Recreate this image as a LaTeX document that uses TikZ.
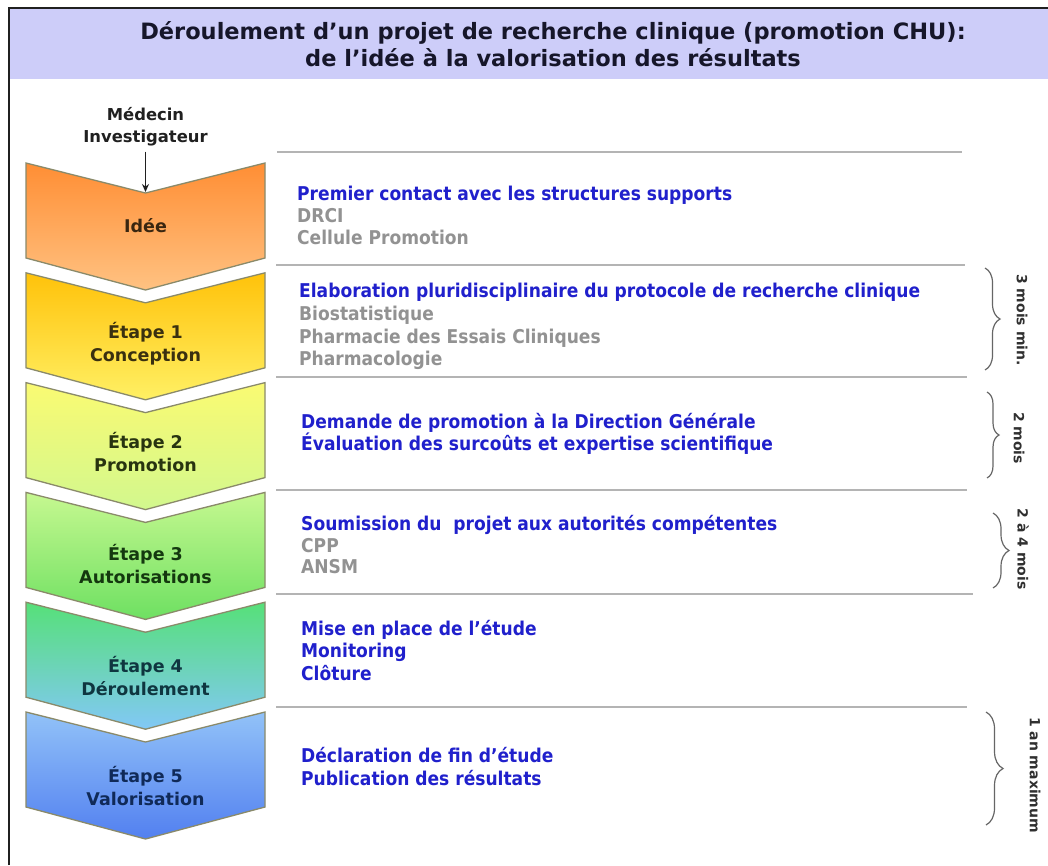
\documentclass[tikz,border=0pt]{standalone}
\usepackage{fontspec}
\setmainfont{DejaVu Sans}
\newfontfamily\condfont{DejaVu Sans Condensed}
\usetikzlibrary{arrows.meta,decorations.pathreplacing}
\definecolor{bandc}{HTML}{CDCDF9}
\definecolor{framec}{HTML}{202020}
\definecolor{titlec}{HTML}{16162A}
\definecolor{bluetxt}{HTML}{2020CC}
\definecolor{graytxt}{HTML}{929292}
\definecolor{chevline}{HTML}{8A8A6A}
\definecolor{rulec}{HTML}{B4B4B4}
\definecolor{bracec}{HTML}{666666}
\definecolor{durc}{HTML}{303030}
\definecolor{c0a}{HTML}{FF8E34}\definecolor{c0b}{HTML}{FFC282}
\definecolor{c1a}{HTML}{FFC20A}\definecolor{c1b}{HTML}{FFF064}
\definecolor{c2a}{HTML}{FAFA72}\definecolor{c2b}{HTML}{D2F88E}
\definecolor{c3a}{HTML}{C6F890}\definecolor{c3b}{HTML}{6EE062}
\definecolor{c4a}{HTML}{56E078}\definecolor{c4b}{HTML}{82C8F6}
\definecolor{c5a}{HTML}{92C2F8}\definecolor{c5b}{HTML}{5280F0}
\definecolor{k0}{HTML}{3A2610}\definecolor{k1}{HTML}{3A3010}
\definecolor{k2}{HTML}{283410}\definecolor{k3}{HTML}{14380F}
\definecolor{k4}{HTML}{0F3640}\definecolor{k5}{HTML}{102A58}
\newcommand\mychev[3]{%
  \path[chevshape, top color=#2, bottom color=#3]
    (26,#1) -- (145.5,#1+30) -- (265,#1) -- (265,#1+95)
    -- (145.5,#1+127) -- (26,#1+95) -- cycle;}
\tikzset{
  chevshape/.style={draw=chevline, line width=1.3pt, line join=miter},
  chevtxt/.style={font=\bfseries\fontsize{17.5}{23}\selectfont, align=center, inner sep=0pt},
  rt/.style={anchor=west, font=\condfont\bfseries\fontsize{19}{22}\selectfont,
    text height=14pt, text depth=4pt, inner sep=0pt},
  blu/.style={rt, text=bluetxt},
  gry/.style={rt, text=graytxt},
  rulestyle/.style={draw=rulec, line width=1.4pt},
  bracestyle/.style={draw=bracec, line width=1.2pt, decorate},
  durtxt/.style={rotate=-90, font=\bfseries\fontsize{14}{16}\selectfont, text=durc, inner sep=0pt},
  arrowstyle/.style={draw=framec, line width=1.1pt, -{Stealth[length=8pt,width=7pt]}}
}
\begin{document}
\begin{tikzpicture}[x=1pt,y=-1pt]
\useasboundingbox (0,0) rectangle (1048,865);
\fill[white] (0,0) rectangle (1048,865);
% header band and frame
\fill[bandc] (9,9) rectangle (1048,79);
\draw[framec, line width=1.8pt] (9,865) -- (9,8) -- (1048,8);
\node[font=\bfseries\fontsize{22.5}{27}\selectfont, text=titlec, align=center] (title) at (553,44)
  {Déroulement d’un projet de recherche clinique (promotion CHU):\\de l’idée à la valorisation des résultats};
% investigator
\node[font=\bfseries\fontsize{16.4}{22}\selectfont, text=framec, align=center, inner sep=0pt] (med) at (145.5,127)
  {Médecin\\Investigateur};
\coordinate (n0) at (145.5,192);
\draw[arrowstyle, shorten <=5pt] (med.south) -- (n0);
% chevrons
\mychev{163}{c0a}{c0b}
\mychev{272.8}{c1a}{c1b}
\mychev{382.6}{c2a}{c2b}
\mychev{492.4}{c3a}{c3b}
\mychev{602.2}{c4a}{c4b}
\mychev{712}{c5a}{c5b}
\node[chevtxt, text=k0] (ch0) at (145.5,226) {Idée};
\node[chevtxt, text=k1] (ch1) at (145.5,344) {Étape 1\\Conception};
\node[chevtxt, text=k2] (ch2) at (145.5,452.5) {Étape 2\\Promotion};
\node[chevtxt, text=k3] (ch3) at (145.5,564) {Étape 3\\Autorisations};
\node[chevtxt, text=k4] (ch4) at (145.5,676) {Étape 4\\Déroulement};
\node[chevtxt, text=k5] (ch5) at (145.5,786) {Étape 5\\Valorisation};
% rules
\draw[rulestyle] (277,152) -- (962,152);
\draw[rulestyle] (276,265) -- (965,265);
\draw[rulestyle] (276,377) -- (967,377);
\draw[rulestyle] (276,490) -- (967,490);
\draw[rulestyle] (276,594) -- (973,594);
\draw[rulestyle] (276,707) -- (967,707);
% right texts
\node[blu] (t01) at (297,195) {Premier contact avec les structures supports};
\node[gry] (t02) at (297,217) {DRCI};
\node[gry] (t03) at (297,239) {Cellule Promotion};
\node[blu] (t11) at (299,292) {Elaboration pluridisciplinaire du protocole de recherche clinique};
\node[gry] (t12) at (299,315) {Biostatistique};
\node[gry] (t13) at (299,338) {Pharmacie des Essais Cliniques};
\node[gry] (t14) at (299,360) {Pharmacologie};
\node[blu] (t21) at (301,423) {Demande de promotion à la Direction Générale};
\node[blu] (t22) at (301,445) {Évaluation des surcoûts et expertise scientifique};
\node[blu] (t31) at (301,525) {Soumission du\ \ projet aux autorités compétentes};
\node[gry] (t32) at (301,547) {CPP};
\node[gry] (t33) at (301,568) {ANSM};
\node[blu] (t41) at (301,630) {Mise en place de l’étude};
\node[blu] (t42) at (301,652) {Monitoring};
\node[blu] (t43) at (301,675) {Clôture};
\node[blu] (t51) at (301,757) {Déclaration de fin d’étude};
\node[blu] (t52) at (301,780) {Publication des résultats};
% braces and durations
\coordinate (b1a) at (985,268); \coordinate (b1b) at (985,370);
\coordinate (b2a) at (987,392); \coordinate (b2b) at (987,478);
\coordinate (b3a) at (993,513); \coordinate (b3b) at (993,588);
\coordinate (b4a) at (986,712); \coordinate (b4b) at (986,825);
\draw[bracestyle, decoration={brace, amplitude=15pt}] (b1a) -- (b1b);
\draw[bracestyle, decoration={brace, amplitude=12pt}] (b2a) -- (b2b);
\draw[bracestyle, decoration={brace, amplitude=16pt}] (b3a) -- (b3b);
\draw[bracestyle, decoration={brace, amplitude=17pt}] (b4a) -- (b4b);
\node[durtxt] (d1) at (1022,320) {3 mois min.};
\node[durtxt] (d2) at (1019,438) {2 mois};
\node[durtxt] (d3) at (1023,549) {2 à 4 mois};
\node[durtxt] (d4) at (1035,775) {1 an maximum};
\end{tikzpicture}
\end{document}
